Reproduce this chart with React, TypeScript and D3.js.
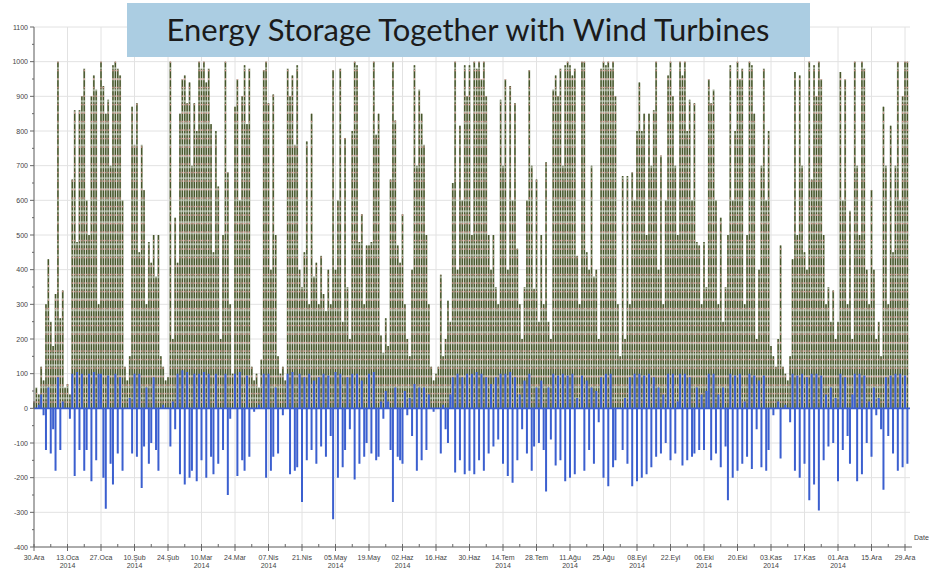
import React from "react";
import * as d3 from "d3";

const startDate = new Date(2013, 11, 30);

// Daily peak wind power (kW), day 0 = 30 Ara 2013
const windPower = [
  20, 60, 40, 120, 80, 300, 430, 250, 180, 330, 1000, 260, 340, 60,
  70, 40, 660, 860, 480, 860, 900, 980, 600, 500, 900, 960, 920, 300,
  1000, 930, 850, 890, 700, 990, 1000, 980, 960, 600, 120, 80, 150, 870,
  760, 880, 450, 760, 630, 300, 480, 420, 500, 380, 500, 150, 120, 80,
  90, 1000, 200, 550, 420, 850, 950, 960, 880, 940, 700, 880, 800, 1000,
  980, 1000, 940, 980, 820, 450, 800, 640, 200, 500, 1000, 680, 300, 100,
  870, 950, 600, 900, 990, 820, 980, 120, 80, 100, 60, 140, 975, 1000,
  880, 400, 905, 500, 150, 100, 120, 80, 980, 900, 960, 760, 990, 400,
  350, 450, 770, 300, 850, 380, 420, 300, 440, 330, 280, 400, 300, 975,
  400, 600, 980, 250, 780, 350, 200, 800, 1000, 990, 480, 560, 300, 470,
  470, 480, 1000, 790, 850, 210, 160, 260, 180, 660, 1000, 830, 470, 420,
  560, 300, 200, 150, 400, 990, 700, 920, 850, 760, 500, 300, 120, 80,
  100, 120, 385, 150, 200, 310, 250, 650, 1000, 400, 815, 600, 990, 900,
  990, 500, 1000, 980, 1000, 950, 1000, 900, 500, 400, 500, 350, 300, 890,
  700, 950, 400, 930, 600, 880, 460, 300, 200, 350, 600, 975, 700, 345,
  660, 250, 500, 300, 710, 250, 200, 920, 960, 900, 980, 700, 990, 1000,
  990, 960, 980, 440, 300, 1000, 1000, 450, 400, 700, 380, 400, 200, 980,
  1000, 990, 1000, 980, 1000, 900, 300, 150, 670, 200, 670, 300, 680, 600,
  800, 940, 800, 850, 500, 850, 700, 860, 1000, 400, 730, 300, 600, 960,
  1000, 900, 700, 500, 1000, 960, 1000, 800, 890, 600, 880, 480, 470, 300,
  480, 350, 950, 880, 920, 600, 300, 550, 250, 350, 500, 990, 600, 800,
  1000, 950, 980, 300, 500, 1000, 990, 850, 200, 400, 700, 980, 600, 800,
  180, 150, 120, 200, 470, 120, 100, 80, 150, 430, 970, 500, 960, 700,
  450, 400, 1000, 660, 990, 900, 1000, 950, 500, 300, 350, 250, 340, 200,
  250, 970, 600, 950, 300, 570, 200, 1000, 700, 500, 1000, 980, 400, 300,
  630, 400, 200, 250, 150, 870, 700, 300, 815, 450, 700, 1000, 600, 900, 1000, 1000,
];

// Daily storage power (kW): positive = discharge, negative = charge
const storagePower = [
  0, 0, 10, 40, -20, -120, 60, -130, -60, -180, 90, -120, 20, 0,
  0, -30, 100, -195, 105, -120, 100, -180, -120, 100, -210, 105, -150, 100,
  100, -200, -290, 95, -160, -220, 100, -130, 90, -180, 0, 0, 30, -130,
  100, -140, 100, -230, -110, 60, -160, -100, 90, -120, -180, 0, 10, 0,
  0, -110, 20, -60, 100, -190, 110, -220, 105, -200, -180, 100, -210, 100,
  -150, 105, -200, 100, -140, -190, 100, -160, 0, -120, 100, -250, -30, 0,
  100, -195, 105, -150, -180, 95, -140, 0, -10, 0, 10, 0, 100, -200,
  100, -180, -140, 60, -130, 0, -20, 0, 100, -190, 105, -180, -170, 100,
  -270, 90, -150, 100, -120, 80, -160, 90, -110, 100, -140, 95, -80, -320,
  105, -200, 100, -170, -120, 90, -60, 100, -205, 100, -160, 80, -140, -100,
  100, -130, 105, -150, -140, 20, -30, 50, 20, -120, -270, 60, -140, -150,
  -160, 50, -20, 30, -80, 70, -180, 60, -150, 60, -120, 40, 0, -10,
  0, 0, -130, 10, -60, -100, 40, 90, -185, 100, -150, 90, -190, 100,
  -180, 100, -190, 105, -150, 100, -180, 90, -130, 70, -110, 90, -90, 100,
  -160, 100, -195, 105, -215, 90, -150, 40, -60, 80, -130, 100, -180, -110,
  60, -100, 80, -120, -240, 60, -90, 100, -165, 95, -150, 100, -210, 95,
  -200, 100, -190, 30, 0, 95, -180, 80, -120, 60, -160, 50, -40, 90,
  -200, 100, -225, 100, -170, -150, 0, 0, -120, 30, -160, 90, -225, 100,
  -210, 100, -200, 95, -190, 100, -170, 90, -140, 60, -130, 40, -100, 100,
  -150, 100, -130, 20, 100, -165, 100, -150, 90, -140, -130, 60, -120, 40,
  -120, 50, 100, -150, 100, -130, 40, -170, 60, -110, -265, 100, -200, 95,
  -180, 100, -160, 20, -140, 100, -175, 95, -60, 80, -170, 95, -180, -120,
  0, -20, 0, 20, -145, 0, 10, 0, -40, 100, -180, 95, -200, 100,
  -160, 90, -265, 100, -220, 100, -295, 95, -150, 40, -110, 60, -100, 30,
  -210, 100, -120, 90, -80, -160, 40, 100, -210, 100, -190, 95, -100, 20,
  -140, 60, -20, 30, -60, -235, 90, -80, 95, -130, 100, -180, 100, -170, 95, -160,
];

const yTickValues = [-400, -300, -200, -100, 0, 100, 200, 300, 400, 500, 600, 700, 800, 900, 1000, 1100];

const xTickLabels = [
  "30.Ara", "13.Oca", "27.Oca", "10.Şub", "24.Şub", "10.Mar", "24.Mar", "07.Nis", "21.Nis",
  "05.May", "19.May", "02.Haz", "16.Haz", "30.Haz", "14.Tem", "28.Tem", "11.Ağu", "25.Ağu",
  "08.Eyl", "22.Eyl", "06.Eki", "20.Eki", "03.Kas", "17.Kas", "01.Ara", "15.Ara", "29.Ara",
];
const xTickYears = [
  "", "2014", "", "2014", "", "2014", "", "2014", "",
  "2014", "", "2014", "", "", "2014", "", "2014", "",
  "2014", "", "2014", "", "2014", "", "2014", "", "",
];

const titleText = "Energy Storage Together with Wind Turbines";
const xAxisTitle = "Date";

export default function App() {
  const x = d3
    .scaleTime()
    .domain([startDate, d3.timeDay.offset(startDate, 364)])
    .range([34, 905]);
  const y = d3.scaleLinear().domain([-400, 1100]).range([547, 27]);
  const dayX = (i: number) => x(d3.timeDay.offset(startDate, i));

  const majorTicks = xTickLabels.map((_, i) => d3.timeDay.offset(startDate, i * 14));
  const minorTicks = xTickLabels.slice(1).map((_, i) => d3.timeDay.offset(startDate, i * 14 + 7));
  const yMinor = yTickValues.slice(1).map((v) => v - 50);

  const needles = (vals: number[]) =>
    vals.map((v, i) => `M${dayX(i)},${y(0)}L${dayX(i)},${y(v)}`).join("");

  const windPath = needles(windPower);
  const storagePath = needles(storagePower);

  const axisColor = "#666";
  const gridColor = "#e2e2e2";
  const labelFont = "'Liberation Sans', Arial, sans-serif";

  return (
    <svg
      width={930}
      height={569}
      style={{ position: "fixed", left: 0, top: 0, background: "#fff" }}
    >
      <rect x={0} y={0} width={930} height={569} fill="#fff" />
      {/* grid */}
      {yTickValues.map((v) => (
        <line key={"gy" + v} x1={34} x2={910} y1={y(v)} y2={y(v)} stroke={gridColor} strokeWidth={1} />
      ))}
      {majorTicks.map((d, i) => (
        <line key={"gx" + i} x1={x(d)} x2={x(d)} y1={y(1100)} y2={y(-400)} stroke={gridColor} strokeWidth={1} />
      ))}

      {/* wind power: light underlay, dark dashed, pink dotted */}
      <path d={windPath} stroke="#a3ad96" strokeWidth={1.9} fill="none" />
      <path d={windPath} stroke="#46552a" strokeWidth={1.3} strokeDasharray="9,2" fill="none" />
      <path d={windPath} stroke="#e79c9c" strokeWidth={1} strokeDasharray="1.5,7" strokeDashoffset={3} fill="none" />

      {/* storage */}
      <line x1={34} x2={910} y1={y(0)} y2={y(0)} stroke="#3b5fcf" strokeWidth={1.6} />
      <path d={storagePath} stroke="#3b5fcf" strokeWidth={2} fill="none" />

      {/* y axis */}
      <line x1={34} x2={34} y1={y(1100)} y2={y(-400)} stroke={axisColor} strokeWidth={1} />
      {yTickValues.map((v) => (
        <g key={"yt" + v}>
          <line x1={30} x2={34} y1={y(v)} y2={y(v)} stroke={axisColor} />
          <text
            x={28}
            y={y(v) + 2.5}
            textAnchor="end"
            fontSize={7}
            fontFamily={labelFont}
            fill="#444"
          >
            {v}
          </text>
        </g>
      ))}
      {yMinor.map((v) => (
        <line key={"ym" + v} x1={32} x2={34} y1={y(v)} y2={y(v)} stroke={axisColor} />
      ))}

      {/* x axis */}
      <line x1={34} x2={912} y1={y(-400)} y2={y(-400)} stroke={axisColor} strokeWidth={1} />
      {majorTicks.map((d, i) => (
        <g key={"xt" + i}>
          <line x1={x(d)} x2={x(d)} y1={y(-400) - 3} y2={y(-400) + 4} stroke={axisColor} />
          <text
            x={x(d)}
            y={560}
            textAnchor="middle"
            fontSize={7}
            fontFamily={labelFont}
            fill="#444"
          >
            {xTickLabels[i]}
          </text>
          {xTickYears[i] && (
            <text
              x={x(d)}
              y={568}
              textAnchor="middle"
              fontSize={7}
              fontFamily={labelFont}
              fill="#444"
            >
              {xTickYears[i]}
            </text>
          )}
        </g>
      ))}
      {minorTicks.map((d, i) => (
        <line key={"xm" + i} x1={x(d)} x2={x(d)} y1={y(-400) - 3} y2={y(-400)} stroke={axisColor} />
      ))}
      <text x={914} y={540} fontSize={7} fontFamily={labelFont} fill="#444">
        {xAxisTitle}
      </text>

      {/* title box */}
      <rect x={127} y={3} width={683} height={54} fill="#abcde2" />
      <text
        x={468}
        y={41}
        textAnchor="middle"
        fontSize={31}
        fontFamily="Lato, 'Open Sans', sans-serif"
        fill="#1b1b1b"
      >
        {titleText}
      </text>
    </svg>
  );
}
